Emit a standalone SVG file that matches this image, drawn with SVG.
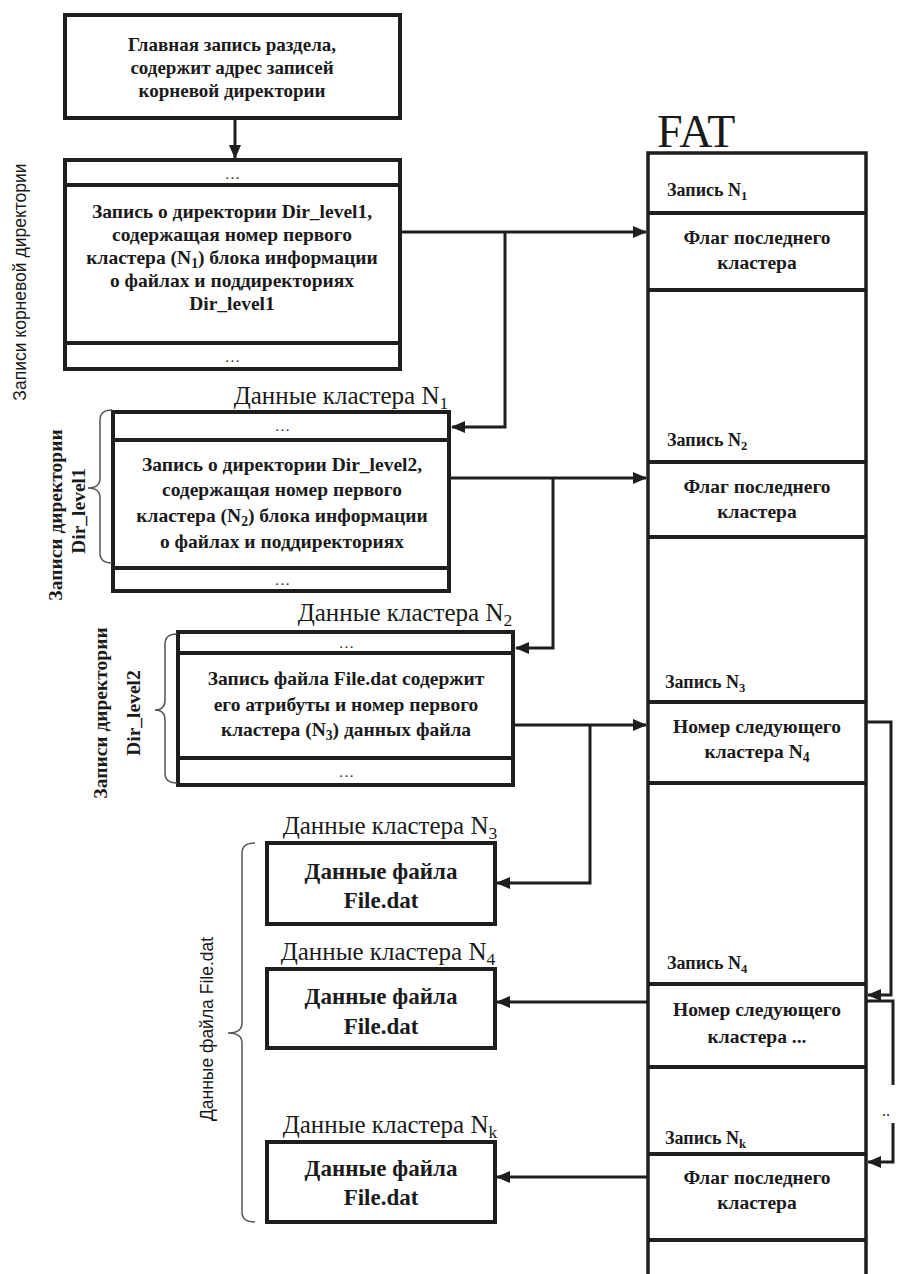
<svg xmlns="http://www.w3.org/2000/svg" width="897" height="1274" viewBox="0 0 897 1274">
<defs>
<marker id="ah" markerUnits="userSpaceOnUse" markerWidth="14" markerHeight="12" refX="13" refY="6" orient="auto">
<path d="M0,0 L14,6 L0,12 Z" fill="#1e1e1e"/>
</marker>
<style>
.box{fill:#fff;stroke:#1e1e1e;stroke-width:4}
.sep{stroke:#1e1e1e;stroke-width:4}
.fat{fill:none;stroke:#1e1e1e;stroke-width:3.5}
.con{fill:none;stroke:#1e1e1e;stroke-width:3}
.brace{fill:none;stroke:#555;stroke-width:1.5}
text{fill:#1a1a1a;font-family:'Liberation Serif','DejaVu Serif',serif}
.t{font-weight:bold;font-size:19.5px;text-anchor:middle}
.t0{font-weight:bold;font-size:19px;text-anchor:middle}
.dots{font-size:15px;text-anchor:middle;letter-spacing:1.5px}
.lbl{font-size:25px;text-anchor:middle}
.dat{font-weight:bold;font-size:23px;text-anchor:middle}
.zap{font-weight:bold;font-size:18px}
.side{font-size:17.5px;text-anchor:middle;font-family:'Liberation Sans','DejaVu Sans',sans-serif}
.sides{font-weight:bold;font-size:19.5px;text-anchor:middle}
.sub{font-size:70%}
</style>
</defs>
<rect width="897" height="1274" fill="#fff"/>

<g id="main-record">
<rect class="box" x="65" y="15" width="335" height="103"/>
<text class="t0" x="232" y="51">Главная запись раздела,</text>
<text class="t0" x="232" y="74">содержит адрес записей</text>
<text class="t0" x="232" y="97">корневой директории</text>
</g>

<g id="root-dir">
<rect class="box" x="65" y="160" width="335" height="209"/>
<line class="sep" x1="65" y1="185" x2="400" y2="185"/>
<line class="sep" x1="65" y1="343" x2="400" y2="343"/>
<text class="dots" x="233" y="179">...</text>
<text class="t" x="232" y="218">Запись о директории Dir_level1,</text>
<text class="t" x="232" y="241">содержащая номер первого</text>
<text class="t" x="232" y="264">кластера (N<tspan class="sub" dy="4">1</tspan><tspan dy="-4">) блока информации</tspan></text>
<text class="t" x="232" y="287">о файлах и поддиректориях</text>
<text class="t" x="232" y="310">Dir_level1</text>
<text class="dots" x="233" y="362">...</text>
</g>

<g id="dir-level1">
<text class="lbl" x="341" y="404">Данные кластера N<tspan class="sub" dy="5">1</tspan></text>
<rect class="box" x="113" y="412" width="336" height="179"/>
<line class="sep" x1="113" y1="440" x2="449" y2="440"/>
<line class="sep" x1="113" y1="568" x2="449" y2="568"/>
<text class="dots" x="283" y="431">...</text>
<text class="t" x="282" y="471">Запись о директории Dir_level2,</text>
<text class="t" x="282" y="496">содержащая номер первого</text>
<text class="t" x="282" y="522">кластера (N<tspan class="sub" dy="4">2</tspan><tspan dy="-4">) блока информации</tspan></text>
<text class="t" x="282" y="548">о файлах и поддиректориях</text>
<text class="dots" x="283" y="585">...</text>
</g>

<g id="dir-level2">
<text class="lbl" x="405" y="621">Данные кластера N<tspan class="sub" dy="5">2</tspan></text>
<rect class="box" x="178" y="632" width="335" height="153"/>
<line class="sep" x1="178" y1="653" x2="513" y2="653"/>
<line class="sep" x1="178" y1="758" x2="513" y2="758"/>
<text class="dots" x="347" y="648">...</text>
<text class="t" x="346" y="685">Запись файла File.dat содержит</text>
<text class="t" x="346" y="711">его атрибуты и номер первого</text>
<text class="t" x="346" y="736">кластера (N<tspan class="sub" dy="4">3</tspan><tspan dy="-4">) данных файла</tspan></text>
<text class="dots" x="347" y="777">...</text>
</g>

<g id="data-n3">
<text class="lbl" x="390" y="834">Данные кластера N<tspan class="sub" dy="5">3</tspan></text>
<rect class="box" x="267" y="843" width="228" height="81"/>
<text class="dat" x="381" y="879">Данные файла</text>
<text class="dat" x="381" y="908">File.dat</text>
</g>

<g id="data-n4">
<text class="lbl" x="388" y="960">Данные кластера N<tspan class="sub" dy="5">4</tspan></text>
<rect class="box" x="267" y="969" width="228" height="79"/>
<text class="dat" x="381" y="1004">Данные файла</text>
<text class="dat" x="381" y="1034">File.dat</text>
</g>

<g id="data-nk">
<text class="lbl" x="390" y="1133">Данные кластера N<tspan class="sub" dy="5">k</tspan></text>
<rect class="box" x="267" y="1142" width="228" height="80"/>
<text class="dat" x="381" y="1176">Данные файла</text>
<text class="dat" x="381" y="1205">File.dat</text>
</g>

<g id="fat">
<text x="657" y="147" font-size="46">FAT</text>
<path class="fat" d="M648,1274 V153 H866 V1274"/>
<line class="sep" x1="648" y1="213" x2="866" y2="213"/>
<line class="sep" x1="648" y1="290" x2="866" y2="290"/>
<line class="sep" x1="648" y1="462" x2="866" y2="462"/>
<line class="sep" x1="648" y1="537" x2="866" y2="537"/>
<line class="sep" x1="648" y1="702" x2="866" y2="702"/>
<line class="sep" x1="648" y1="783" x2="866" y2="783"/>
<line class="sep" x1="648" y1="984" x2="866" y2="984"/>
<line class="sep" x1="648" y1="1067" x2="866" y2="1067"/>
<line class="sep" x1="648" y1="1154" x2="866" y2="1154"/>
<line class="sep" x1="648" y1="1240" x2="866" y2="1240"/>
<text class="zap" x="667" y="196">Запись N<tspan class="sub" dy="4">1</tspan></text>
<text class="t" x="757" y="244">Флаг последнего</text>
<text class="t" x="757" y="269">кластера</text>
<text class="zap" x="667" y="446">Запись N<tspan class="sub" dy="4">2</tspan></text>
<text class="t" x="757" y="493">Флаг последнего</text>
<text class="t" x="757" y="518">кластера</text>
<text class="zap" x="665" y="688">Запись N<tspan class="sub" dy="4">3</tspan></text>
<text class="t" x="757" y="733">Номер следующего</text>
<text class="t" x="757" y="758">кластера N<tspan class="sub" dy="4">4</tspan></text>
<text class="zap" x="667" y="969">Запись N<tspan class="sub" dy="4">4</tspan></text>
<text class="t" x="757" y="1016">Номер следующего</text>
<text class="t" x="757" y="1043">кластера  ...</text>
<text class="zap" x="665" y="1144">Запись N<tspan class="sub" dy="4">k</tspan></text>
<text class="t" x="757" y="1184">Флаг последнего</text>
<text class="t" x="757" y="1209">кластера</text>
</g>

<g id="side-labels">
<text class="side" transform="translate(26,282) rotate(-90)">Записи корневой директории</text>
<text class="sides" transform="translate(62,515) rotate(-90)">Записи директории</text>
<text class="sides" transform="translate(85,511) rotate(-90)">Dir_level1</text>
<text class="sides" transform="translate(107,713) rotate(-90)">Записи директории</text>
<text class="sides" transform="translate(140,713) rotate(-90)">Dir_level2</text>
<text class="side" font-size="18" transform="translate(213,1029) rotate(-90)">Данные файла File.dat</text>
<path class="brace" d="M112,410 Q100,410 100,420 L100,478 Q100,488 88,488 Q100,488 100,498 L100,553 Q100,563 112,563"/>
<path class="brace" d="M177,634 Q165,634 165,644 L165,700 Q165,710 155,710 Q165,710 165,720 L165,773 Q165,783 177,783"/>
<path class="brace" d="M255,843 Q242,843 242,853 L242,1023 Q242,1033 228,1033 Q242,1033 242,1043 L242,1212 Q242,1222 255,1222"/>
</g>

<g id="connectors">
<line class="con" x1="235" y1="118" x2="235" y2="158" marker-end="url(#ah)"/>
<line class="con" x1="400" y1="232" x2="646" y2="232" marker-end="url(#ah)"/>
<polyline class="con" points="505,232 505,427 452,427" marker-end="url(#ah)"/>
<line class="con" x1="449" y1="478" x2="646" y2="478" marker-end="url(#ah)"/>
<polyline class="con" points="553,478 553,648 516,648" marker-end="url(#ah)"/>
<line class="con" x1="513" y1="725" x2="646" y2="725" marker-end="url(#ah)"/>
<polyline class="con" points="590,725 590,883 497,883" marker-end="url(#ah)"/>
<line class="con" x1="648" y1="1002" x2="497" y2="1002" marker-end="url(#ah)"/>
<line class="con" x1="648" y1="1177" x2="497" y2="1177" marker-end="url(#ah)"/>
<polyline class="con" points="866,722 891,722 891,995 868,995" marker-end="url(#ah)"/>
<polyline class="con" points="866,1001 893,1001 893,1085"/>
<polyline class="con" points="893,1123 893,1162 868,1162" marker-end="url(#ah)"/>
<text x="882" y="1116" font-size="16">..</text>
</g>
</svg>
